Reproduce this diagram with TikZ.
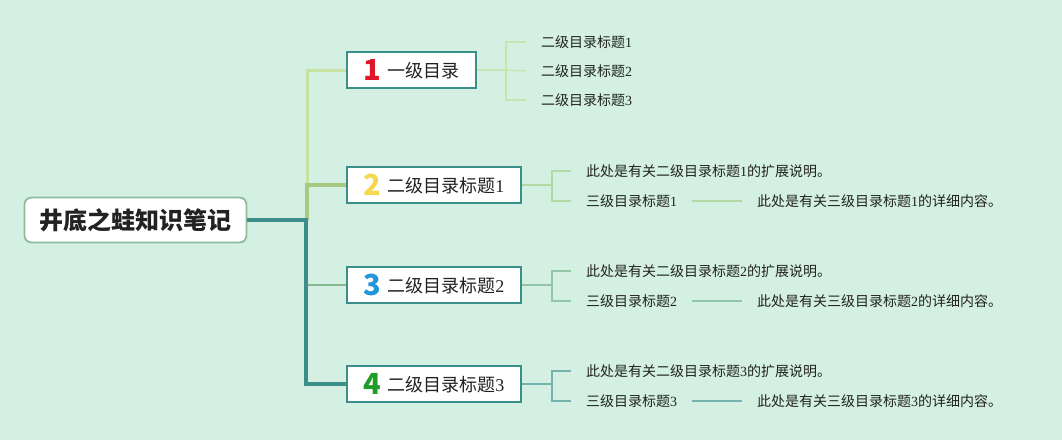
\documentclass[tikz,border=0pt]{standalone}
\usepackage{fontspec}
\setmainfont{Noto Sans CJK SC}
\newfontfamily\sn{Liberation Serif}
\newfontfamily\bdg{Noto Sans CJK SC}
\definecolor{bg}{HTML}{D3F0E2}
\definecolor{teal}{HTML}{3B8E89}
\definecolor{bA}{HTML}{C8E2A4}
\definecolor{bB}{HTML}{A9C982}
\definecolor{bC}{HTML}{86B892}
\definecolor{sA}{HTML}{C7E5B0}
\definecolor{sB}{HTML}{B5D9A2}
\definecolor{sC}{HTML}{93C6A6}
\definecolor{sD}{HTML}{73B4AE}
\definecolor{rootb}{HTML}{8EBC98}
\definecolor{txt}{HTML}{222222}
\definecolor{cR}{HTML}{E0162B}
\definecolor{cY}{HTML}{F5D850}
\definecolor{cB}{HTML}{2196DB}
\definecolor{cG}{HTML}{1E9E28}
\newcommand{\badge}[2]{\raisebox{-2pt}{\bdg\bfseries\fontsize{29}{29}\selectfont\textcolor{#1}{#2}}}
\tikzset{
  rootbox/.style={draw=rootb,line width=1.8pt,fill=white,rounded corners=7pt,minimum width=222pt,minimum height=45pt,inner sep=0pt,text=txt,font=\bfseries\fontsize{24}{26}\selectfont},
  lonebox/.style={draw=teal,line width=2pt,fill=white,minimum height=36pt,inner sep=0pt,text=txt,font=\fontsize{18}{20}\selectfont},
  ltext/.style={anchor=west,inner sep=0pt,text=txt,font=\fontsize{14}{16}\selectfont},
  subline/.style={line width=1.3pt},
}
\begin{document}
\begin{tikzpicture}[x=1pt,y=-1pt]
\fill[bg] (0,0) rectangle (1062,440);
\useasboundingbox (0,0) rectangle (1062,440);
% nodes
\node[rootbox] (root) at (135.5,220) {井底之蛙知识笔记};
\node[lonebox,minimum width=129pt] (n1) at (411.5,70) {\badge{cR}{1}\hspace{6pt}\raisebox{1.5pt}{一级目录}};
\node[lonebox,minimum width=174pt] (n2) at (434,185) {\badge{cY}{2}\hspace{6pt}\raisebox{1.5pt}{二级目录标题{\sn 1}}};
\node[lonebox,minimum width=174pt] (n3) at (434,285) {\badge{cB}{3}\hspace{6pt}\raisebox{1.5pt}{二级目录标题{\sn 2}}};
\node[lonebox,minimum width=174pt] (n4) at (434,384) {\badge{cG}{4}\hspace{6pt}\raisebox{1.5pt}{二级目录标题{\sn 3}}};
\coordinate (tr) at (307,220);
% level 2 texts
\node[ltext] (a1) at (541,42) {二级目录标题{\sn 1}};
\node[ltext] (a2) at (541,71) {二级目录标题{\sn 2}};
\node[ltext] (a3) at (541,100) {二级目录标题{\sn 3}};
\node[ltext] (p2) at (586,171) {此处是有关二级目录标题{\sn 1}的扩展说明。};
\node[ltext] (q2) at (586,201) {三级目录标题{\sn 1}};
\node[ltext] (r2) at (757,201) {此处是有关三级目录标题{\sn 1}的详细内容。};
\node[ltext] (p3) at (586,271) {此处是有关二级目录标题{\sn 2}的扩展说明。};
\node[ltext] (q3) at (586,301) {三级目录标题{\sn 2}};
\node[ltext] (r3) at (757,301) {此处是有关三级目录标题{\sn 2}的详细内容。};
\node[ltext] (p4) at (586,371) {此处是有关二级目录标题{\sn 3}的扩展说明。};
\node[ltext] (q4) at (586,401) {三级目录标题{\sn 3}};
\node[ltext] (r4) at (757,401) {此处是有关三级目录标题{\sn 3}的详细内容。};
% trunk branches
\draw[bA,line width=3pt] (tr) |- (n1.west);
\draw[bB,line width=4pt] (tr) |- (n2.west);
\draw[bC,line width=2.5pt] (tr) |- (n3.west);
\draw[teal,line width=4pt] ([xshift=-1pt]tr) -- ([xshift=-1pt]tr |- n4.west) -- (n4.west);
\draw[teal,line width=3.5pt] (root.east) -- ([xshift=0.75pt]tr);
% sub brackets
\coordinate (k1) at (506,70);
\draw[sA,subline] (n1.east) -- (k1);
\draw[sA,subline] ([xshift=-15pt]a1.west) -| (k1) |- ([xshift=-15pt]a3.west);
\draw[sA,subline] (k1) -- ([xshift=-15pt]a2.west);
\foreach \i/\c in {2/sB,3/sC,4/sD}{
  \coordinate (k\i) at ([xshift=30pt]n\i.east);
  \draw[\c,subline] (n\i.east) -- (k\i);
  \draw[\c,subline] ([xshift=-15pt]p\i.west) -| (k\i) |- ([xshift=-15pt]q\i.west);
  \draw[\c,subline] ([xshift=15pt]q\i.east) -- ([xshift=-15pt]r\i.west);
}
\end{tikzpicture}
\end{document}
